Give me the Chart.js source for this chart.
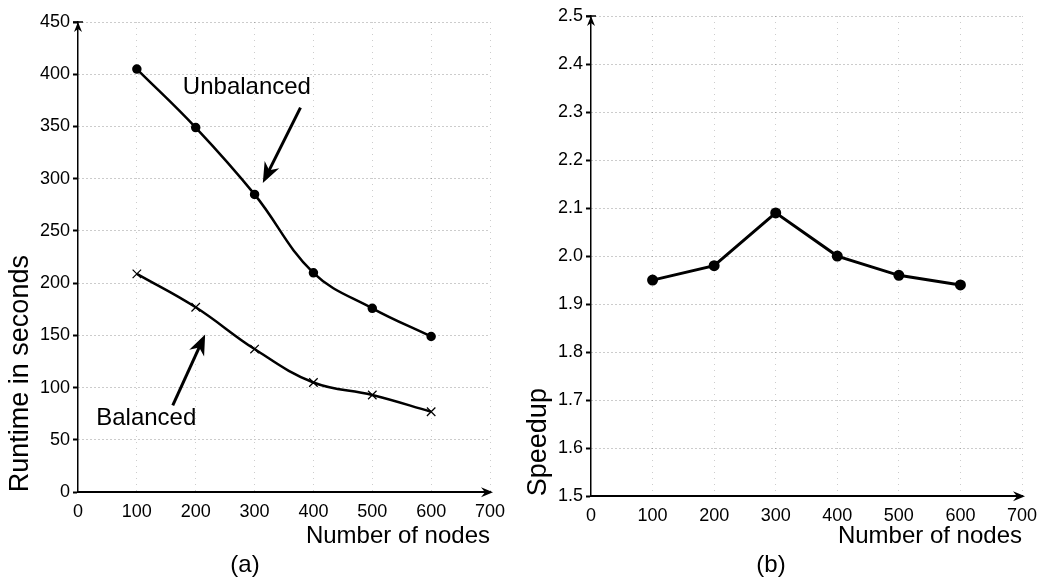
<!DOCTYPE html>
<html>
<head>
<meta charset="utf-8">
<script src="https://cdn.jsdelivr.net/npm/chart.js@4.4.1/dist/chart.umd.min.js"></script>
<style>
	body { margin: 0; background: #fff; }
	#wrap { position: relative; width: 1055px; height: 586px; }
	canvas { position: absolute; top: 0; }
	#runtime_chart { left: 0; }
	#speedup_chart { left: 520px; }
</style>
</head>
<body>
<div id="wrap">
	<canvas id="runtime_chart" width="520" height="586"></canvas>
	<canvas id="speedup_chart" width="535" height="586"></canvas>
</div>
<script>
// values
const nodes = [100, 200, 300, 400, 500, 600]
const unbalancedRuntime = [405, 349, 285, 210, 176, 149]
const balancedRuntime = [209, 177, 137, 105, 93, 77]
const speedup = [1.95, 1.98, 2.09, 2.0, 1.96, 1.94]

const FONT = "'Liberation Sans', Arial, Helvetica, sans-serif"
const GRID = 'rgba(0,0,0,0.4)'

const toPoints = values => values.map((v, i) => ({ x: nodes[i], y: v }))

// arrow heads at the end of both axes
const axisArrows = {
	id: 'axisArrows',
	afterDraw(chart) {
		const { ctx, chartArea: a } = chart
		ctx.save()
		ctx.fillStyle = '#000'
		ctx.strokeStyle = '#000'
		ctx.lineWidth = 1.5
		// up arrow
		ctx.beginPath()
		ctx.moveTo(a.left, a.top)
		ctx.lineTo(a.left - 4, a.top + 10)
		ctx.lineTo(a.left, a.top + 7)
		ctx.lineTo(a.left + 4, a.top + 10)
		ctx.closePath()
		ctx.fill()
		ctx.beginPath()
		ctx.moveTo(a.left - 5, a.top)
		ctx.lineTo(a.left + 5, a.top)
		ctx.stroke()
		// right arrow
		ctx.beginPath()
		ctx.moveTo(a.right + 3, a.bottom)
		ctx.lineTo(a.right - 9, a.bottom - 5)
		ctx.lineTo(a.right - 5, a.bottom)
		ctx.lineTo(a.right - 9, a.bottom + 5)
		ctx.closePath()
		ctx.fill()
		ctx.restore()
	},
}

// text labels with arrows, placed in data units
const callouts = {
	id: 'callouts',
	afterDatasetsDraw(chart, args, opts) {
		const { ctx, scales } = chart
		const items = opts.items || []
		ctx.save()
		items.forEach(item => {
			const tx = scales.x.getPixelForValue(item.text[0])
			const ty = scales.y.getPixelForValue(item.text[1])
			ctx.font = `24px ${FONT}`
			ctx.fillStyle = '#000'
			ctx.textAlign = 'center'
			ctx.textBaseline = 'middle'
			ctx.fillText(item.label, tx, ty)
			const x0 = scales.x.getPixelForValue(item.from[0])
			const y0 = scales.y.getPixelForValue(item.from[1])
			const x1 = scales.x.getPixelForValue(item.to[0])
			const y1 = scales.y.getPixelForValue(item.to[1])
			const ang = Math.atan2(y1 - y0, x1 - x0)
			const head = 22
			ctx.strokeStyle = '#000'
			ctx.lineWidth = 3
			ctx.beginPath()
			ctx.moveTo(x0, y0)
			ctx.lineTo(x1 - Math.cos(ang) * head * 0.6, y1 - Math.sin(ang) * head * 0.6)
			ctx.stroke()
			ctx.beginPath()
			ctx.moveTo(x1, y1)
			ctx.lineTo(x1 - head * Math.cos(ang - 0.38), y1 - head * Math.sin(ang - 0.38))
			ctx.lineTo(x1 - head * 0.65 * Math.cos(ang), y1 - head * 0.65 * Math.sin(ang))
			ctx.lineTo(x1 - head * Math.cos(ang + 0.38), y1 - head * Math.sin(ang + 0.38))
			ctx.closePath()
			ctx.fill()
		})
		ctx.restore()
	},
}

function xScale(height) {
	return {
		type: 'linear',
		min: 0,
		max: 700,
		afterFit: scale => { scale.height = height },
		// in v4 border.dash styles the grid lines
		border: { color: '#000', width: 2, dash: [1, 5] },
		grid: {
			drawTicks: false,
			color: c => (c.tick && c.tick.value === 0 ? 'transparent' : 'rgba(0,0,0,0.2)'),
			lineWidth: 1,
		},
		ticks: {
			stepSize: 100,
			padding: 9,
			color: '#000',
			font: { family: FONT, size: 18 },
		},
		title: {
			display: true,
			text: 'Number of nodes',
			align: 'end',
			color: '#000',
			font: { family: FONT, size: 24 },
			padding: { top: 0, bottom: 0 },
		},
	}
}

function yGrid(isMajor) {
	return {
		color: c => (c.tick && isMajor(c.tick.value) && c.tick.value !== c.scale.min ? GRID : 'transparent'),
		tickColor: c => (c.tick && isMajor(c.tick.value) ? '#000' : 'transparent'),
		tickLength: 5,
		tickWidth: 2,
	}
}

function bottomTitle(text) {
	return {
		display: true,
		position: 'bottom',
		text,
		color: '#000',
		font: { family: FONT, size: 24, weight: 'normal' },
		padding: { top: 0, bottom: 6 },
	}
}

// (a) runtime
const isMajorRuntime = v => Math.round(v) % 50 === 0
new Chart(document.getElementById('runtime_chart'), {
	type: 'line',
	data: {
		datasets: [
			{
				label: 'Unbalanced',
				data: toPoints(unbalancedRuntime),
				borderColor: '#000',
				backgroundColor: '#000',
				borderWidth: 2.5,
				pointStyle: 'circle',
				pointRadius: 3.5,
				tension: 0.4,
			},
			{
				label: 'Balanced',
				data: toPoints(balancedRuntime),
				borderColor: '#000',
				backgroundColor: '#000',
				borderWidth: 2.5,
				pointStyle: 'crossRot',
				pointRadius: 6,
				pointBorderWidth: 1.2,
				tension: 0.4,
			},
		],
	},
	options: {
		responsive: false,
		animation: false,
		layout: { padding: { left: 0, right: 30, top: 22, bottom: 0 } },
		scales: {
			x: xScale(59),
			y: {
				type: 'linear',
				min: 0,
				max: 450,
				afterFit: scale => { scale.width = 78 },
				border: { color: '#000', width: 1.5, dash: [1, 3] },
				grid: yGrid(isMajorRuntime),
				ticks: {
					stepSize: 10,
					autoSkip: false,
					padding: 3,
					color: '#000',
					font: { family: FONT, size: 18 },
					callback: v => (isMajorRuntime(v) ? v : ''),
				},
				title: {
					display: true,
					text: 'Runtime in seconds',
					align: 'start',
					color: '#000',
					font: { family: FONT, size: 27 },
					padding: { top: 4, bottom: 0 },
				},
			},
		},
		plugins: {
			legend: false,
			tooltip: false,
			title: bottomTitle('(a)'),
			callouts: {
				items: [
					{ label: 'Unbalanced', text: [287, 387], from: [378, 368], to: [314, 296] },
					{ label: 'Balanced', text: [116, 71], from: [161, 83], to: [216, 151] },
				],
			},
		},
	},
	plugins: [axisArrows, callouts],
})

// (b) speedup
const isMajorSpeedup = v => Math.round(v * 100) % 10 === 0
new Chart(document.getElementById('speedup_chart'), {
	type: 'line',
	data: {
		datasets: [
			{
				label: 'Speedup',
				data: toPoints(speedup),
				borderColor: '#000',
				backgroundColor: '#000',
				borderWidth: 3,
				pointRadius: 4,
				tension: 0,
			},
		],
	},
	options: {
		responsive: false,
		animation: false,
		layout: { padding: { left: 0, right: 33, top: 16, bottom: 0 } },
		scales: {
			x: xScale(55),
			y: {
				type: 'linear',
				min: 1.5,
				max: 2.5,
				afterFit: scale => { scale.width = 71 },
				border: { color: '#000', width: 1.5, dash: [1, 3] },
				grid: yGrid(isMajorSpeedup),
				ticks: {
					stepSize: 0.02,
					autoSkip: false,
					padding: 3,
					color: '#000',
					font: { family: FONT, size: 18 },
					callback: v => (isMajorSpeedup(v) ? v.toFixed(1) : ''),
				},
				title: {
					display: true,
					text: 'Speedup',
					align: 'start',
					color: '#000',
					font: { family: FONT, size: 27 },
					padding: { top: 2, bottom: 0 },
				},
			},
		},
		plugins: {
			legend: false,
			tooltip: false,
			title: bottomTitle('(b)'),
		},
	},
	plugins: [axisArrows],
})
</script>
</body>
</html>
